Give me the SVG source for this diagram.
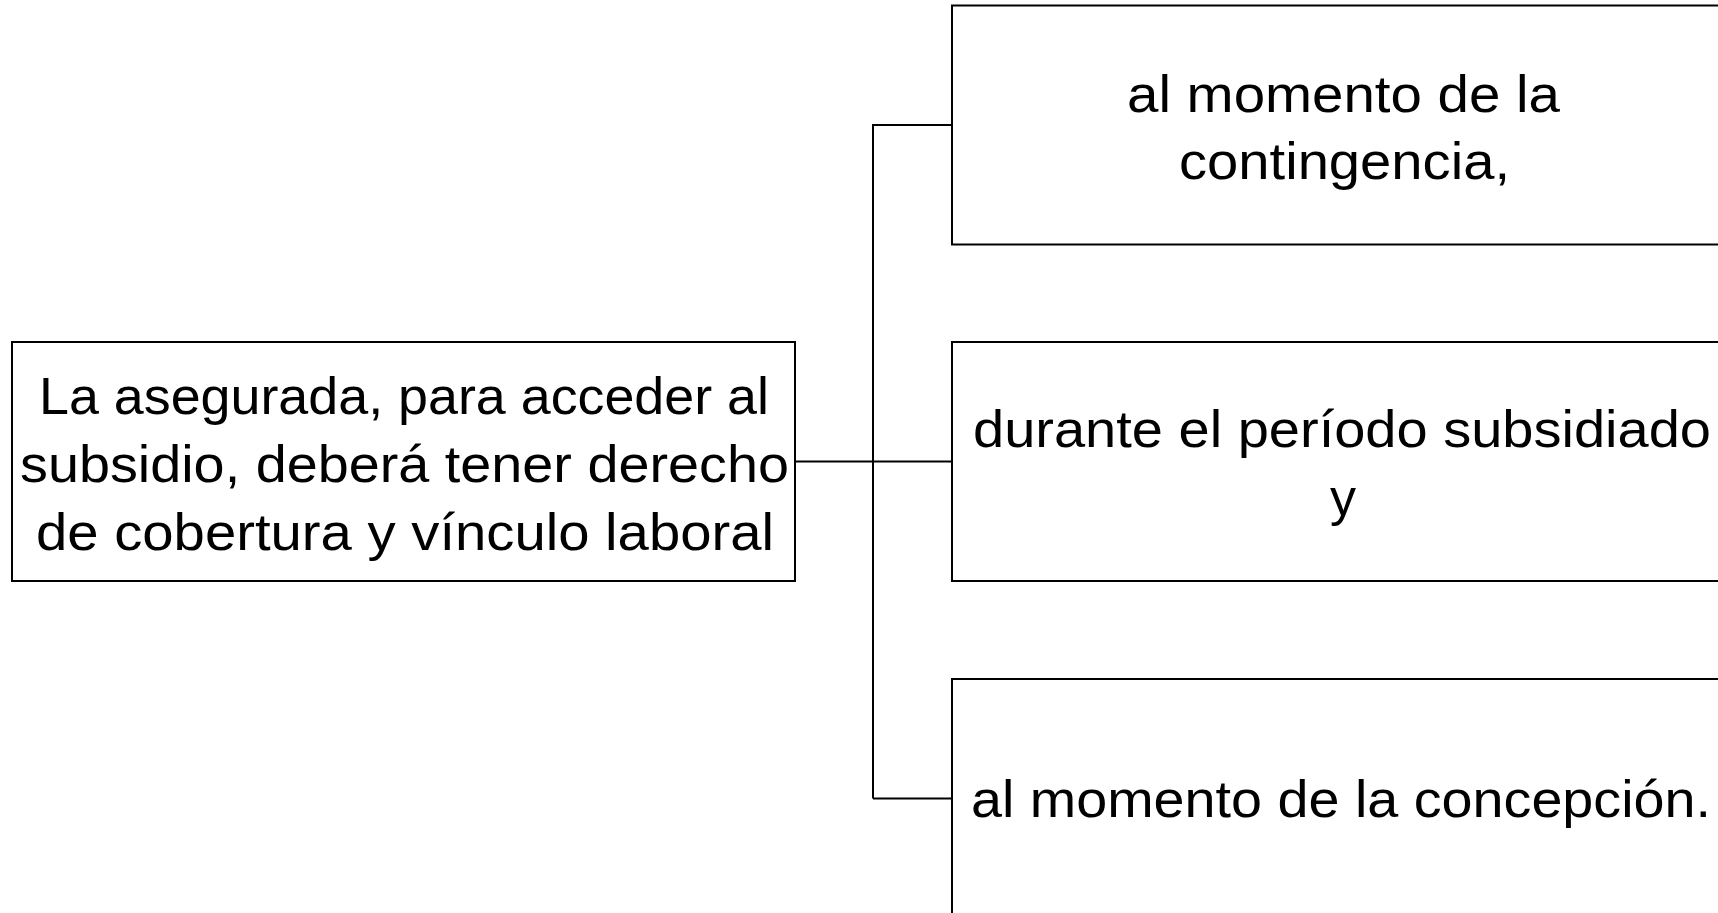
<svg xmlns="http://www.w3.org/2000/svg" width="1718" height="913" viewBox="0 0 1718 913">
<style>
.box{fill:#fff;stroke:#000;stroke-width:2}
.t{font-family:"Liberation Sans",Arial,sans-serif;font-size:52px;fill:#000}
.c{fill:none;stroke:#000;stroke-width:2}
</style>
<rect width="1718" height="913" fill="#fff"/>
<g id="connectors">
<path class="c" d="M795 461.5H952"/>
<path class="c" d="M873 798.5V125H952"/>
<path class="c" d="M873 798.5H952"/>
</g>
<g id="n0">
<rect class="box" x="12" y="342" width="783" height="239"/>
<text class="t" x="39" y="414" textLength="730" lengthAdjust="spacingAndGlyphs">La asegurada, para acceder al</text>
<text class="t" x="20" y="482" textLength="769" lengthAdjust="spacingAndGlyphs">subsidio, deberá tener derecho</text>
<text class="t" x="36" y="550" textLength="738" lengthAdjust="spacingAndGlyphs">de cobertura y vínculo laboral</text>
</g>
<g id="n1">
<rect class="box" x="952" y="5.5" width="790" height="239"/>
<text class="t" x="1127" y="112" textLength="433" lengthAdjust="spacingAndGlyphs">al momento de la</text>
<text class="t" x="1179" y="179" textLength="331" lengthAdjust="spacingAndGlyphs">contingencia,</text>
</g>
<g id="n2">
<rect class="box" x="952" y="342" width="790" height="239"/>
<text class="t" x="973" y="447" textLength="738" lengthAdjust="spacingAndGlyphs">durante el período subsidiado</text>
<text class="t" x="1343" y="515" text-anchor="middle">y</text>
</g>
<g id="n3">
<rect class="box" x="952" y="679" width="790" height="239"/>
<text class="t" x="971" y="817" textLength="740" lengthAdjust="spacingAndGlyphs">al momento de la concepción.</text>
</g>
</svg>
